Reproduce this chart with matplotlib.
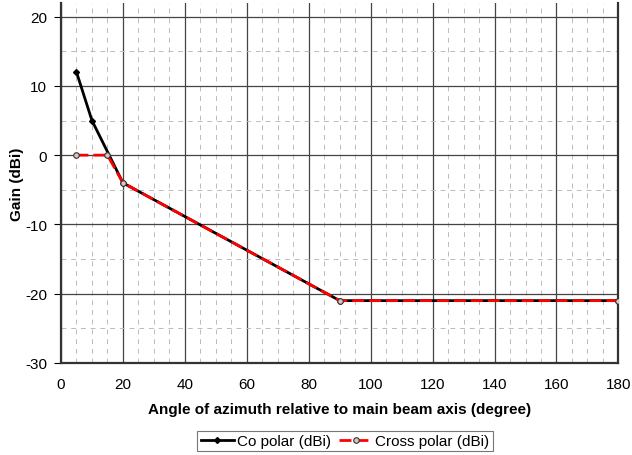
import numpy as np
import matplotlib.pyplot as plt
from matplotlib.ticker import MultipleLocator

# Datos
angulo_co = [5, 10, 20, 90, 180]
ganancia_co = [12, 5, -4, -21, -21]
angulo_cross = [5, 15, 20, 90, 180]
ganancia_cross = [0, 0, -4, -21, -21]

plt.rcParams['font.family'] = ['Liberation Sans', 'DejaVu Sans']
plt.rcParams['axes.unicode_minus'] = False

fig = plt.figure(figsize=(6.32, 4.56), dpi=100)
ax = fig.add_axes([0.0965, 0.2018, 0.882, 0.79])

ax.plot(angulo_co, ganancia_co, color='black', linewidth=2, marker='D',
        markersize=3, label='Co polar (dBi)', zorder=3)
ax.plot(angulo_cross, ganancia_cross, color='red', linewidth=2, linestyle=(0, (4.3, 1.8)),
        marker='o', markersize=4, markerfacecolor='#e0c0c0', markeredgecolor='#333333',
        markeredgewidth=0.8, label='Cross polar (dBi)', zorder=4)

ax.set_xlim(0, 180)
ax.set_ylim(-30, 22)
ax.xaxis.set_major_locator(MultipleLocator(20))
ax.yaxis.set_major_locator(MultipleLocator(10))
ax.xaxis.set_minor_locator(MultipleLocator(5))
ax.yaxis.set_minor_locator(MultipleLocator(5))

ax.grid(True, which='major', color='#444444', linewidth=0.9)
ax.grid(True, which='minor', color='#bbbbbb', linewidth=0.7, linestyle=(0, (5, 5)))
ax.set_axisbelow(True)

for s in ['left', 'bottom', 'right']:
    ax.spines[s].set_linewidth(1.6)
    ax.spines[s].set_color('#333333')
ax.spines['top'].set_visible(False)

ax.tick_params(axis='both', which='minor', length=0)
ax.tick_params(axis='x', which='major', length=0, labelsize=11, pad=10)
ax.tick_params(axis='y', which='major', length=5, labelsize=11, pad=5)

ax.set_xlabel('Angle of azimuth relative to main beam axis (degree)', fontsize=11,
              fontweight='bold', labelpad=8)
ax.set_ylabel('Gain (dBi)', fontsize=11, fontweight='bold', labelpad=1)

leg = fig.legend(loc='lower center', bbox_to_anchor=(0.546, -0.008), ncol=2, fontsize=11,
                 frameon=True, fancybox=False, edgecolor='#555555', handlelength=2.2,
                 handletextpad=0.2, columnspacing=0.5, borderpad=0.2)
leg.get_frame().set_linewidth(0.8)

fig.savefig('out.png', dpi=100)
